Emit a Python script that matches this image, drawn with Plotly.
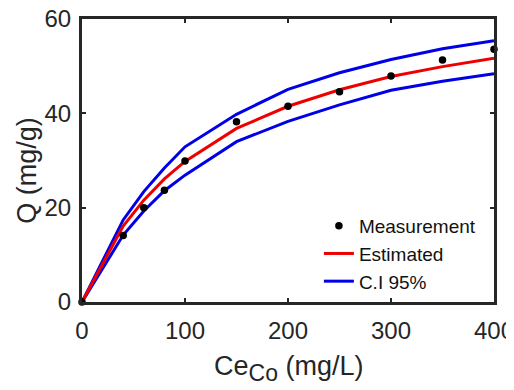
import plotly.graph_objects as go

# Data
ce = [0, 40, 60, 80, 100, 150, 200, 250, 300, 350, 400]
q_meas = [0, 14.1, 20.0, 23.7, 29.9, 38.2, 41.5, 44.6, 47.9, 51.3, 53.6]
q_est = [0, 16.1, 21.6, 26.1, 29.8, 36.8, 41.5, 45.0, 47.8, 49.9, 51.7]
ci_upper = [0, 17.4, 23.4, 28.4, 32.9, 39.8, 45.1, 48.6, 51.4, 53.7, 55.4]
ci_lower = [0, 14.2, 19.3, 23.6, 26.9, 34.0, 38.3, 41.8, 44.9, 46.8, 48.4]

xticks = [0, 100, 200, 300, 400]
yticks = [0, 20, 40, 60]

FONT = "Arial, Liberation Sans, Helvetica, sans-serif"
AX = "#262626"

fig = go.Figure()
fig.add_trace(go.Scatter(x=ce, y=ci_upper, mode="lines", line=dict(color="#0000e6", width=3),
                         name="C.I 95%", showlegend=False))
fig.add_trace(go.Scatter(x=ce, y=ci_lower, mode="lines", line=dict(color="#0000e6", width=3),
                         name="C.I 95%", showlegend=False))
fig.add_trace(go.Scatter(x=ce, y=q_est, mode="lines", line=dict(color="#ee0000", width=3),
                         name="Estimated", showlegend=False))
fig.add_trace(go.Scatter(x=ce, y=q_meas, mode="markers", marker=dict(color="black", size=7.5),
                         name="Measurement", cliponaxis=False))
fig.add_trace(go.Scatter(x=[None], y=[None], mode="lines", line=dict(color="#ee0000", width=3),
                         name="Estimated"))
fig.add_trace(go.Scatter(x=[None], y=[None], mode="lines", line=dict(color="#0000e6", width=3),
                         name="C.I 95%"))

axis_common = dict(showline=True, mirror="ticks", linecolor=AX, linewidth=3,
                   ticks="inside", ticklen=4, tickwidth=2, tickcolor=AX,
                   showgrid=False, zeroline=False, automargin=False,
                   ticklabeloverflow="allow",
                   tickfont=dict(family=FONT, size=24, color=AX))

fig.update_xaxes(range=[0, 400], tickvals=xticks, ticklabelstandoff=5, **axis_common)
fig.update_yaxes(range=[0, 60], tickvals=yticks, ticklabelstandoff=3, **axis_common)

# the page body adds an 8px offset, so the figure is 8px smaller with 8px less left/top margin
fig.update_layout(
    width=506, height=382,
    margin=dict(l=74, r=20, t=11, b=88),
    paper_bgcolor="white", plot_bgcolor="white",
    font=dict(family=FONT, color=AX),
    legend=dict(x=0.575, y=0.336, xanchor="left", yanchor="top",
                bgcolor="rgba(0,0,0,0)", borderwidth=0,
                font=dict(family=FONT, size=19, color="#111111"),
                tracegroupgap=0),
    annotations=[
        dict(text="Ce<sub><span style='font-size:23px'>Co</span></sub> (mg/L)",
             xref="paper", yref="paper", x=0.5, y=0,
             xanchor="center", yanchor="top", yshift=-47, showarrow=False,
             font=dict(family=FONT, size=27, color=AX)),
        dict(text="Q (mg/g)", xref="paper", yref="paper", x=0, y=0.464,
             xanchor="center", yanchor="middle", xshift=-55, textangle=-90, showarrow=False,
             font=dict(family=FONT, size=27, color=AX)),
    ],
)

fig.write_html("out.html")
